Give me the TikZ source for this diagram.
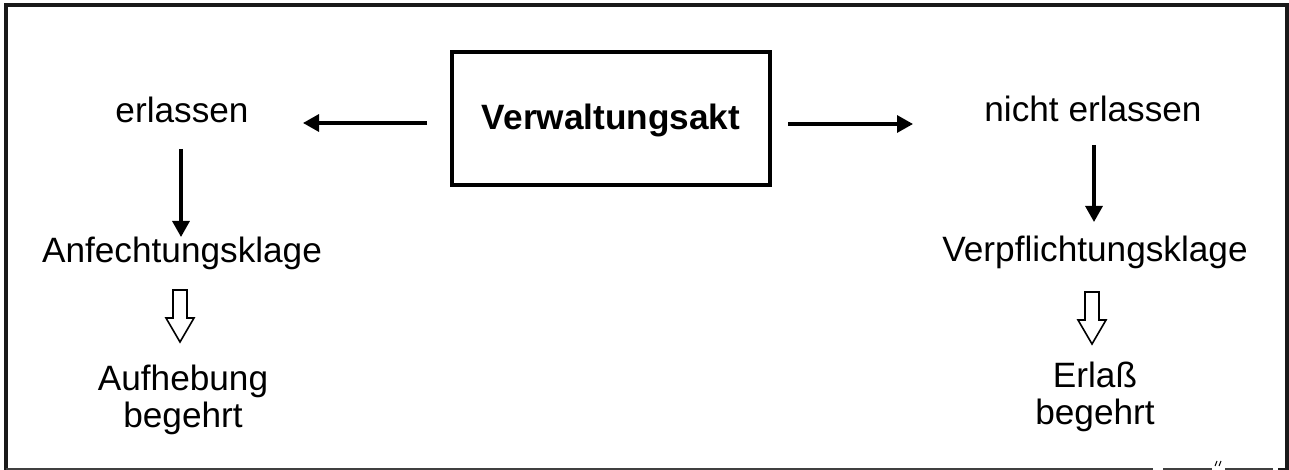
\documentclass[tikz,border=0pt]{standalone}
\usepackage{fontspec}
\setmainfont{Liberation Sans}
\usetikzlibrary{arrows.meta}
\begin{document}
\begin{tikzpicture}[x=0.5pt,y=-0.5pt,
  lbl/.style={font=\fontsize{17.6pt}{18.5pt}\selectfont, inner sep=0pt, anchor=base},
  arr/.style={line width=1.6pt, -{Triangle[length=8pt,width=8.5pt]}},
  hollow/.style={draw, line width=0.8pt, fill=white, line join=miter}]
\useasboundingbox (0,0) rectangle (1289,470);
% frame
\draw[line width=2pt, color=black!90] (6,470) -- (6,5.5) -- (1287,5.5) -- (1287,470);
\draw[line width=0.6pt, color=black!75] (6,469) -- (1153,469);
\draw[line width=0.6pt, color=black!75] (1163,469) -- (1212,469);
\draw[line width=0.6pt, color=black!75] (1225,469) -- (1273,469);
\draw[line width=0.6pt, color=black!90] (1278,469) -- (1289,469);
\draw[line width=0.5pt] (1215,466) -- (1217,461) (1219,466) -- (1221,461);
% main box
\node[draw, line width=2pt, minimum width=159pt, minimum height=66.5pt, inner sep=0pt] (va) at (611,118.5) {};
\node[lbl, font=\fontsize{17.6pt}{20.5pt}\selectfont\bfseries] (vat) at (611,130) {Verwaltungsakt};
% texts
\node[lbl] (erl) at (182,123) {erlassen};
\node[lbl] (nerl) at (1093,122) {nicht erlassen};
\node[lbl] (anf) at (182,263) {Anfechtungsklage};
\node[lbl] (verp) at (1095,262) {Verpflichtungsklage};
\node[lbl] (auf1) at (183,390) {Aufhebung};
\node[lbl] (auf2) at (183,427) {begehrt};
\node[lbl] (erlb1) at (1095,387) {Erlaß};
\node[lbl] (erlb2) at (1095,424) {begehrt};
% arrow endpoints
\coordinate (la1) at (427,123); \coordinate (la2) at (303,123);
\coordinate (ra1) at (788,124); \coordinate (ra2) at (913,124);
\coordinate (ld1) at (181,149); \coordinate (ld2) at (181,237);
\coordinate (rd1) at (1094,145); \coordinate (rd2) at (1094,222);
\draw[arr] (la1) -- (la2);
\draw[arr] (ra1) -- (ra2);
\draw[arr] (ld1) -- (ld2);
\draw[arr] (rd1) -- (rd2);
% hollow arrows
\foreach \cx/\ty in {180/290,1092/292}{
  \draw[hollow] (\cx-7,\ty) -- (\cx+7,\ty) -- (\cx+7,\ty+28) -- (\cx+14,\ty+28) -- (\cx,\ty+52) -- (\cx-14,\ty+28) -- (\cx-7,\ty+28) -- cycle;
}
\end{tikzpicture}
\end{document}
